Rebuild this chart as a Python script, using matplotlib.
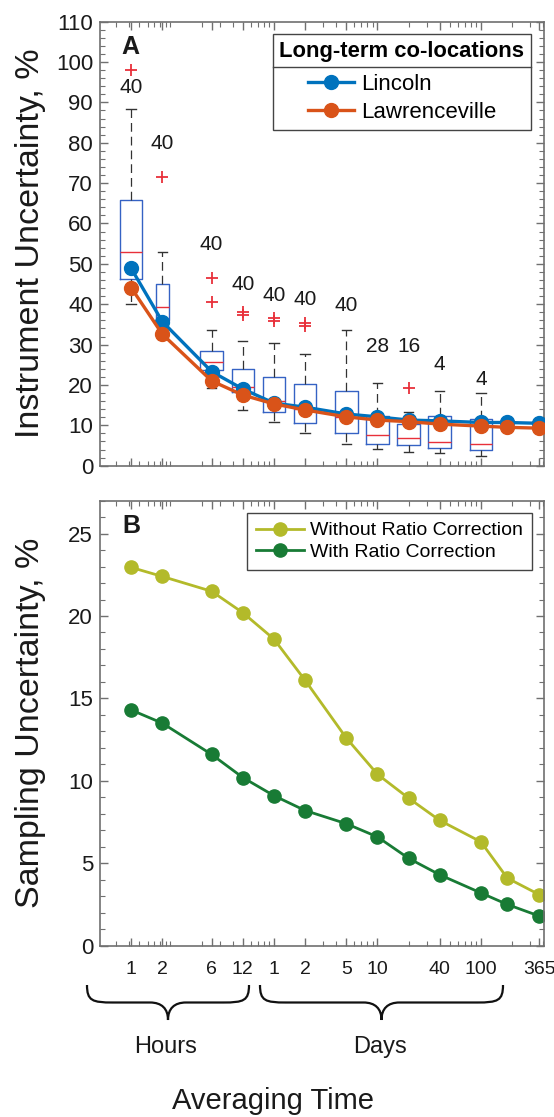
import numpy as np
import matplotlib.pyplot as plt
from matplotlib.path import Path
from matplotlib.patches import PathPatch
from matplotlib.lines import Line2D

plt.rcParams['font.family'] = ['Liberation Sans', 'DejaVu Sans']

# averaging times in days (1h, 2h, 6h, 12h, then days)
days = [1/24, 2/24, 6/24, 12/24, 1, 2, 5, 10, 20, 40, 100, 180, 365]

# panel A: instrument uncertainty (%)
lincoln = [48.9, 35.7, 23.3, 19.0, 15.5, 14.5, 12.8, 12.1, 11.3, 11.1, 10.7, 10.7, 10.5]
lawrenceville = [44.1, 32.6, 21.0, 17.5, 15.3, 13.8, 12.1, 11.3, 10.9, 10.3, 9.8, 9.5, 9.3]

# box plot summary for the first 11 averaging times
box_q3 = [65.8, 45.1, 28.5, 24.0, 21.9, 20.2, 18.6, 12.3, 10.3, 12.3, 11.6]
box_med = [52.9, 39.4, 25.7, 19.4, 15.9, 14.0, 12.1, 7.6, 6.9, 5.9, 5.4]
box_q1 = [46.2, 36.1, 23.7, 18.3, 13.3, 10.5, 8.2, 5.3, 5.0, 4.3, 3.9]
box_hi = [88.3, 53.0, 33.6, 30.9, 30.5, 27.6, 33.6, 20.4, 13.4, 18.6, 17.9]
box_lo = [40.0, 31.5, 19.3, 13.9, 10.7, 8.0, 5.3, 4.1, 3.5, 3.1, 2.4]
box_out = [[98.0], [71.5], [46.6, 40.6], [38.0, 37.3], [36.6, 35.9], [35.3, 34.6],
           [], [], [19.2], [], []]
counts = [40, 40, 40, 40, 40, 40, 40, 28, 16, 4, 4]
count_y = [93.8, 79.7, 54.9, 45.0, 42.1, 41.2, 39.6, 29.5, 29.5, 25.0, 21.4]

# panel B: sampling uncertainty (%)
without_ratio = [22.95, 22.4, 21.5, 20.2, 18.6, 16.1, 12.6, 10.4, 8.95, 7.6, 6.3, 4.1, 3.1]
with_ratio = [14.3, 13.5, 11.6, 10.2, 9.1, 8.2, 7.4, 6.6, 5.3, 4.3, 3.2, 2.5, 1.8]

tick_days = [1/24, 2/24, 6/24, 12/24, 1, 2, 5, 10, 40, 100, 365]
tick_labels = ['1', '2', '6', '12', '1', '2', '5', '10', '40', '100', '365']

W, H = 554, 1117
fig = plt.figure(figsize=(W / 100, H / 100), dpi=100)
axA = fig.add_axes([0.1805, 0.5831, 0.802, 0.3975])
axB = fig.add_axes([0.1805, 0.1534, 0.802, 0.3984])

lx = np.log10(days)
spine_c = '#707070'
txt_c = '#1a1a1a'
red = '#e8303a'

# boxes
stats = []
for i in range(len(box_med)):
    stats.append(dict(med=box_med[i], q1=box_q1[i], q3=box_q3[i],
                      whislo=box_lo[i], whishi=box_hi[i], fliers=box_out[i]))
widths = [0.2175] * len(stats)
widths[1] = 0.13
axA.bxp(stats, positions=lx[:len(stats)], widths=widths, capwidths=0.09,
        boxprops=dict(color='#3562c4', lw=1),
        medianprops=dict(color=red, lw=1),
        whiskerprops=dict(color='#333333', lw=0.9, ls=(0, (7, 4))),
        capprops=dict(color='#333333', lw=1),
        flierprops=dict(marker='+', markeredgecolor=red, markersize=8, mew=1.3),
        manage_ticks=False)

axA.plot(lx, lincoln, '-o', color='#0072BD', lw=2.4, ms=10, label='Lincoln', zorder=3)
axA.plot(lx, lawrenceville, '-o', color='#D95319', lw=2.4, ms=10, label='Lawrenceville', zorder=4)

for p, c, y in zip(lx, counts, count_y):
    axA.text(p, y, str(c), ha='center', va='center', fontsize=15, color=txt_c)

axB.plot(lx, without_ratio, '-o', color='#b3ba2a', lw=2, ms=9.5, label='Without Ratio Correction')
axB.plot(lx, with_ratio, '-o', color='#187b35', lw=2, ms=9.5, label='With Ratio Correction')

# minor ticks on a log10(day) axis
minor = []
for dec in [0.01, 0.1, 1, 10, 100]:
    for k in range(1, 10):
        minor.append(dec * k)
minor = np.log10(minor)
xlo, xhi = np.log10(0.5 / 24), np.log10(410)
minor = minor[(minor > xlo) & (minor < xhi)]

for ax in (axA, axB):
    ax.set_xlim(xlo, xhi)
    ax.set_xticks(np.log10(tick_days))
    ax.set_xticks(minor, minor=True)
    ax.tick_params(which='both', direction='in', top=True, right=True,
                   color=spine_c, labelcolor=txt_c)
    ax.tick_params(which='major', length=6, width=1)
    ax.tick_params(which='minor', length=3.5, width=0.8)
    ax.tick_params(axis='x', pad=11, labelsize=14)
    ax.tick_params(axis='y', pad=5, labelsize=16)
    for s in ax.spines.values():
        s.set_color(spine_c)
        s.set_linewidth(1.2)

axA.set_xticklabels([])
axB.set_xticklabels(tick_labels)

axA.set_ylim(0, 110)
axA.set_yticks(np.arange(0, 111, 10))
axA.set_yticks(np.arange(0, 111, 2), minor=True)
axB.set_ylim(0, 27)
axB.set_yticks(np.arange(0, 26, 5))
axB.set_yticks(np.arange(0, 28, 1), minor=True)

axA.set_ylabel('Instrument Uncertainty, %', fontsize=24.5, color=txt_c)
axB.set_ylabel('Sampling Uncertainty, %', fontsize=24.5, color=txt_c)
axA.yaxis.set_label_coords(-0.121, 0.5)
axB.yaxis.set_label_coords(-0.121, 0.5)

axA.text(0.0675, 0.944, 'A', transform=axA.transAxes, fontsize=18, fontweight='bold',
         ha='center', va='center', color=txt_c)
axB.text(0.071, 0.942, 'B', transform=axB.transAxes, fontsize=18, fontweight='bold',
         ha='center', va='center', color=txt_c)

legA = axA.legend(title='Long-term co-locations', loc='upper right', bbox_to_anchor=(0.970, 0.972),
                  fontsize=16, title_fontproperties={'weight': 'bold', 'size': 15.8},
                  fancybox=False, edgecolor='#444444', framealpha=1, borderaxespad=0,
                  handlelength=2.1, handletextpad=0.28, borderpad=0.3, labelspacing=0.3)
legA.get_frame().set_linewidth(1)
legA._legend_box.sep = 9  # room for the title separator
legB = axB.legend(loc='upper right', bbox_to_anchor=(0.972, 0.972), fontsize=14,
                  fancybox=False, edgecolor='#444444', framealpha=1, borderaxespad=0,
                  handlelength=2.5, handletextpad=0.3, borderpad=0.45, labelspacing=0.2)
legB.get_frame().set_linewidth(1)

# separator line under the legend title
fig.canvas.draw()
r = fig.canvas.get_renderer()
lb = legA.get_window_extent(r)
tb = legA.get_title().get_window_extent(r)
inv = fig.transFigure.inverted()
ysep = tb.y0 - 5
p0 = inv.transform((lb.x0, ysep))
p1 = inv.transform((lb.x1, ysep))
fig.add_artist(Line2D([p0[0], p1[0]], [p0[1], p1[1]], color='#444444', lw=1))


def brace(x0, x1, yt, ym, yb, r=26, r2=18):
    xm = (x0 + x1) / 2
    pts = [(x0, yt),
           (x0, yt + (ym - yt) * 0.9), (x0 + r * 0.2, ym), (x0 + r, ym),
           (xm - r2, ym),
           (xm - r2 * 0.35, ym), (xm, ym + (yb - ym) * 0.35), (xm, yb),
           (xm, ym + (yb - ym) * 0.35), (xm + r2 * 0.35, ym), (xm + r2, ym),
           (x1 - r, ym),
           (x1 - r * 0.2, ym), (x1, yt + (ym - yt) * 0.9), (x1, yt)]
    codes = [Path.MOVETO] + [Path.CURVE4] * 3 + [Path.LINETO] + [Path.CURVE4] * 6 + \
            [Path.LINETO] + [Path.CURVE4] * 3
    pts = [(x / W, 1 - y / H) for x, y in pts]
    fig.add_artist(PathPatch(Path(pts, codes), fill=False, lw=1.6, ec='#111111',
                             transform=fig.transFigure))


brace(87, 249, 985, 1002.5, 1020)
brace(260, 503, 985, 1002.5, 1020)
fig.text(166 / W, 1 - 1047 / H, 'Hours', ha='center', va='center', fontsize=17, color=txt_c)
fig.text(380 / W, 1 - 1047 / H, 'Days', ha='center', va='center', fontsize=17, color=txt_c)
fig.text(272.5 / W, 1 - 1101 / H, 'Averaging Time', ha='center', va='center', fontsize=21, color=txt_c)

fig.savefig('out.png', dpi=100)
